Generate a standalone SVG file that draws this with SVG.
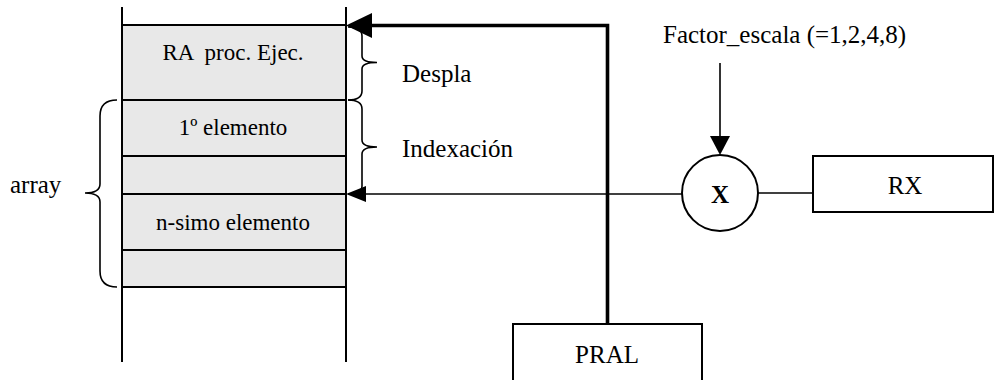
<svg xmlns="http://www.w3.org/2000/svg" width="994" height="380" viewBox="0 0 994 380">
<style>
  text { font-family: "Liberation Serif", "Times New Roman", serif; fill: #000; }
  .cell { font-size: 23px; text-anchor: middle; }
  .lbl { font-size: 25px; }
  .mid { text-anchor: middle; }
  .ln { stroke: #000; stroke-width: 2; fill: none; }
  .thin { stroke: #000; stroke-width: 1.6; fill: none; }
  .thick { stroke: #000; stroke-width: 3.6; fill: none; }
  .box { stroke: #000; stroke-width: 2; fill: #fff; }
  .brace { stroke: #000; stroke-width: 1.6; fill: none; }
</style>

<g id="memory">
  <rect x="122" y="25" width="224" height="262" fill="#e8e8e8"/>
  <line class="ln" x1="122" y1="7" x2="122" y2="362"/>
  <line class="ln" x1="346" y1="7" x2="346" y2="362"/>
  <line class="ln" x1="122" y1="25" x2="346" y2="25"/>
  <line class="ln" x1="122" y1="100" x2="346" y2="100"/>
  <line class="ln" x1="122" y1="156" x2="346" y2="156"/>
  <line class="ln" x1="122" y1="194" x2="346" y2="194"/>
  <line class="ln" x1="122" y1="250" x2="346" y2="250"/>
  <line class="ln" x1="122" y1="287" x2="346" y2="287"/>
  <text class="cell" x="233" y="60" xml:space="preserve">RA  proc. Ejec.</text>
  <text class="cell" x="233" y="135">1º elemento</text>
  <text class="cell" x="233" y="230">n-simo elemento</text>
</g>

<g id="brace-despla">
  <path class="brace" d="M348,27 Q362,27 362,36 L362,56 Q362,62.5 377,62.5 Q362,62.5 362,69 L362,91 Q362,100 348,100"/>
  <text class="lbl" x="402" y="82">Despla</text>
</g>

<g id="brace-indexacion">
  <path class="brace" d="M348,100 Q362,100 362,109 L362,140 Q362,147 377,147 Q362,147 362,154 L362,186 Q362,194 348,194"/>
  <text class="lbl" x="402" y="157">Indexación</text>
</g>

<g id="brace-array">
  <path class="brace" d="M117,100 Q100,100 100,116 L100,184 Q100,193 85,193 Q100,193 100,202 L100,271 Q100,287 117,287"/>
  <text class="lbl" x="10" y="193">array</text>
</g>

<g id="factor">
  <text class="lbl" x="663" y="43">Factor_escala (=1,2,4,8)</text>
</g>

<g id="mult">
  <circle cx="720" cy="193" r="38" class="box"/>
  <text class="lbl mid" x="720" y="203" font-weight="bold">X</text>
</g>

<g id="rx">
  <rect class="box" x="813" y="156" width="180" height="56"/>
  <text class="lbl mid" x="905" y="194">RX</text>
</g>

<g id="pral">
  <rect class="box" x="513" y="324" width="189" height="58"/>
  <text class="lbl mid" x="607" y="363">PRAL</text>
</g>

<g id="connectors">
  <polyline class="thick" points="607.5,324 607.5,25.5 370,25.5"/>
  <polygon points="346,25.5 372,13 372,38" fill="#000"/>
  <line class="thin" x1="682" y1="194" x2="364" y2="194"/>
  <polygon points="346,194 366,186 366,202" fill="#000"/>
  <line class="thin" x1="758" y1="193" x2="813" y2="193"/>
  <line class="thin" x1="720" y1="63" x2="720" y2="138"/>
  <polygon points="720,155 710,136 730,136" fill="#000"/>
</g>
</svg>
